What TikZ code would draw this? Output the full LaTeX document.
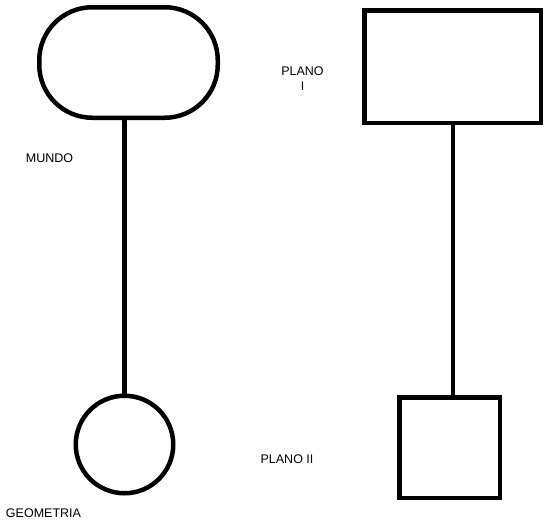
\documentclass[tikz,border=0pt]{standalone}
\usepackage{fontspec}
\setmainfont{Liberation Sans}
\begin{document}
\begin{tikzpicture}[x=1pt,y=-1pt,
  shapeline/.style={draw=black, line width=4.5pt, fill=white, inner sep=0pt},
  link/.style={draw=black, line width=4.5pt},
  lbl/.style={font=\fontsize{12.5}{13}\selectfont, inner sep=0pt, align=center}]
\useasboundingbox (0,0) rectangle (545,522);

% left column: world and geometry
\node[shapeline, rectangle, rounded corners=53pt, minimum width=178.5pt, minimum height=110.5pt] (mundo) at (128.5,62.5) {};
\node[shapeline, circle, minimum size=97.5pt] (geo) at (124.5,444.5) {};
\draw[link] (geo.north) -- (geo.north |- mundo.south);

% right column: plane I and plane II
\node[shapeline, rectangle, minimum width=176.5pt, minimum height=112.5pt] (planoA) at (452.5,66.5) {};
\node[shapeline, rectangle, minimum width=100.5pt, minimum height=100.5pt] (planoB) at (449.5,447.5) {};
\draw[link] (planoB.north -| 453,0) -- (planoA.south -| 453,0);

% labels
\node[lbl] (tmundo) at (49.5,158.5) {MUNDO};
\node[lbl] (tgeo) at (43.5,513) {GEOMETRIA};
\node[lbl] (tplanoA) at (302.5,79) {PLANO\\[2pt]I};
\node[lbl] (tplanoB) at (287,459) {PLANO II};
\end{tikzpicture}
\end{document}
